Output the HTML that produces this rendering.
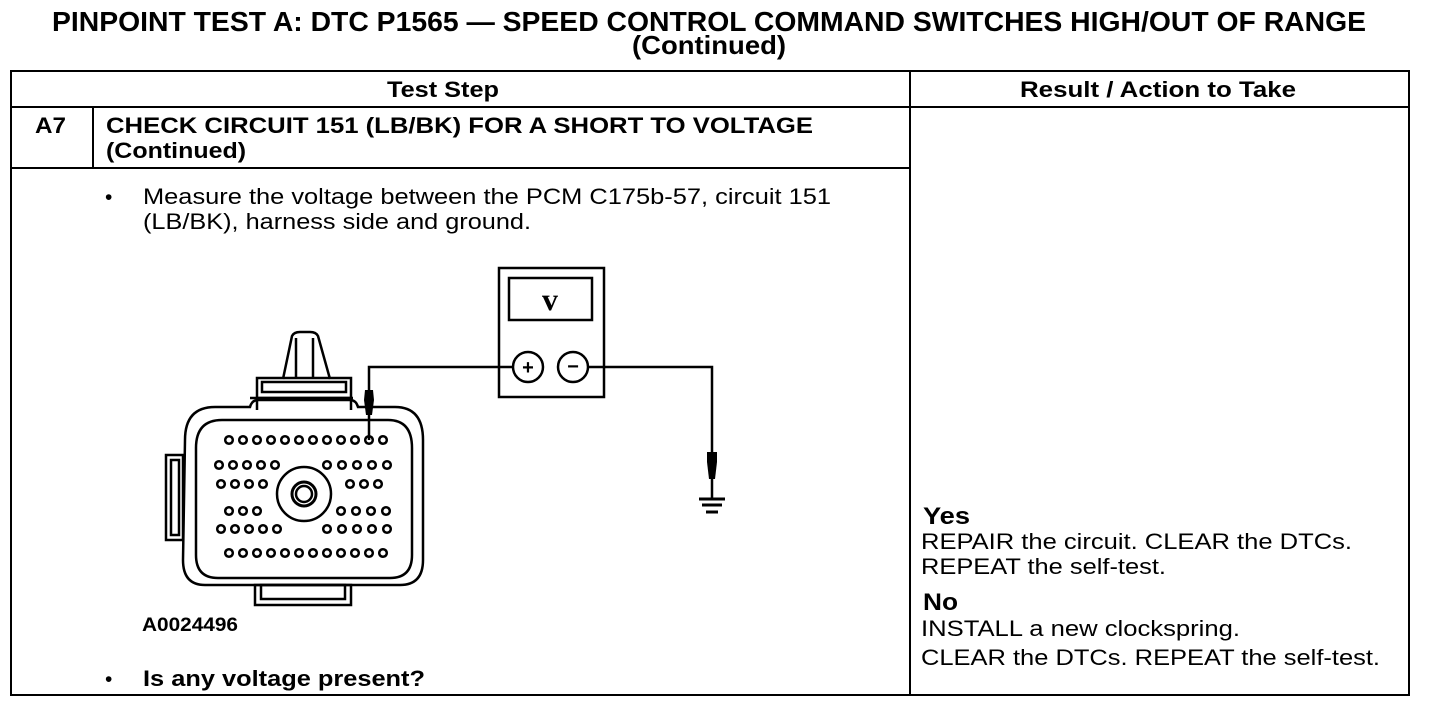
<!DOCTYPE html>
<html><head><meta charset="utf-8"><style>
html,body{margin:0;padding:0;background:#fff;}
svg{display:block;}
text{font-family:"Liberation Sans",Arial,sans-serif;fill:#000;}
.b{font-weight:bold;}
</style></head><body>
<svg width="1440" height="710" viewBox="0 0 1440 710" xmlns="http://www.w3.org/2000/svg">
<text class="b" x="52" y="31" font-size="28" textLength="1314" lengthAdjust="spacingAndGlyphs">PINPOINT TEST  A: DTC P1565 — SPEED CONTROL COMMAND SWITCHES HIGH/OUT OF RANGE</text>
<text class="b" x="632" y="54" font-size="26" textLength="154" lengthAdjust="spacingAndGlyphs">(Continued)</text>
<g fill="none" stroke="#000" stroke-width="2">
<rect x="11" y="71" width="1398" height="624"/>
<line x1="11" y1="107" x2="1409" y2="107"/>
<line x1="910" y1="71" x2="910" y2="695"/>
<line x1="11" y1="168" x2="910" y2="168"/>
<line x1="93" y1="107" x2="93" y2="168"/>
</g>
<text class="b" x="387" y="97" font-size="22" textLength="112" lengthAdjust="spacingAndGlyphs">Test Step</text>
<text class="b" x="1020" y="97" font-size="22" textLength="276" lengthAdjust="spacingAndGlyphs">Result / Action to Take</text>
<text class="b" x="35" y="133" font-size="22" textLength="31" lengthAdjust="spacingAndGlyphs">A7</text>
<text class="b" x="106" y="133" font-size="22" textLength="707" lengthAdjust="spacingAndGlyphs">CHECK CIRCUIT 151 (LB/BK) FOR A SHORT TO VOLTAGE</text>
<text class="b" x="106" y="158" font-size="22" textLength="140" lengthAdjust="spacingAndGlyphs">(Continued)</text>
<text x="105" y="204" font-size="21">•</text>
<text x="143" y="204" font-size="22" textLength="688" lengthAdjust="spacingAndGlyphs">Measure the voltage between the PCM C175b-57, circuit 151</text>
<text x="143" y="229" font-size="22" textLength="388" lengthAdjust="spacingAndGlyphs">(LB/BK), harness side and ground.</text>
<text class="b" x="142" y="631" font-size="19" textLength="96" lengthAdjust="spacingAndGlyphs">A0024496</text>
<text x="105" y="686" font-size="21">•</text>
<text class="b" x="143" y="686" font-size="22" textLength="282" lengthAdjust="spacingAndGlyphs">Is any voltage present?</text>
<text class="b" x="923" y="524" font-size="24" textLength="47" lengthAdjust="spacingAndGlyphs">Yes</text>
<text x="921" y="549" font-size="22" textLength="431" lengthAdjust="spacingAndGlyphs">REPAIR the circuit. CLEAR the DTCs.</text>
<text x="921" y="574" font-size="22" textLength="245" lengthAdjust="spacingAndGlyphs">REPEAT the self-test.</text>
<text class="b" x="923" y="610" font-size="24" textLength="35" lengthAdjust="spacingAndGlyphs">No</text>
<text x="921" y="636" font-size="22" textLength="319" lengthAdjust="spacingAndGlyphs">INSTALL a new clockspring.</text>
<text x="921" y="665" font-size="22" textLength="459" lengthAdjust="spacingAndGlyphs">CLEAR the DTCs. REPEAT the self-test.</text>
<!-- meter -->
<g fill="none" stroke="#000" stroke-width="2.5">
<rect x="499" y="268" width="105" height="129"/>
<rect x="509" y="278" width="83" height="42"/>
<circle cx="528" cy="367" r="15"/>
<circle cx="573" cy="367" r="15"/>
<polyline points="513,367 369,367 369,440"/>
<polyline points="588,367 712,367 712,498"/>
</g>
<text x="550" y="310" font-size="32" font-weight="bold" text-anchor="middle" style="font-family:'Liberation Serif',serif">v</text>
<text x="528" y="374" font-size="20" font-weight="bold" text-anchor="middle">+</text>
<text x="573" y="373" font-size="20" font-weight="bold" text-anchor="middle">−</text>
<polygon points="365,390 373,390 374,400 372,415 366,415 364,400" fill="#000"/>
<polygon points="707,452 717,452 717,462 715,479 709,479 707,462" fill="#000"/>
<g stroke="#000" stroke-width="3">
<line x1="699" y1="499" x2="725" y2="499"/>
<line x1="702" y1="505" x2="722" y2="505"/>
<line x1="706" y1="512" x2="718" y2="512"/>
</g>
<!-- connector -->
<g fill="none" stroke="#000" stroke-width="2.5">
<path d="M283,379 L292,336 Q294,332 300,332 L310,332 Q316,332 318,336 L330,379"/>
<line x1="296" y1="338" x2="296" y2="378"/>
<line x1="313" y1="338" x2="313" y2="378"/>
<rect x="257" y="378" width="94" height="20"/>
<rect x="262" y="382" width="84" height="10"/>
<path d="M250,398 L353,398 M257,398 L257,410 M351,398 L351,410"/>
<path d="M185,440 Q185,407 215,407 L250,407 Q252,400 258,400 L350,400 Q356,400 358,407 L395,407 Q423,407 423,440 L423,560 Q423,585 400,585 L205,585 Q183,585 183,560 Z"/>
<path d="M196,448 Q196,420 222,420 L388,420 Q412,420 412,448 L412,555 Q412,578 390,578 L218,578 Q196,578 196,555 Z"/>
<rect x="166" y="455" width="17" height="85"/>
<rect x="171" y="460" width="8" height="75"/>
<rect x="255" y="585" width="96" height="20"/>
<rect x="261" y="585" width="84" height="14"/>
<circle cx="304" cy="494" r="27"/>
<circle cx="304" cy="494" r="12" stroke-width="3"/>
<circle cx="304" cy="494" r="8"/>
</g>
<g fill="none" stroke="#000" stroke-width="2.5">
<circle cx="229" cy="440" r="3.8"/><circle cx="243" cy="440" r="3.8"/><circle cx="257" cy="440" r="3.8"/><circle cx="271" cy="440" r="3.8"/><circle cx="285" cy="440" r="3.8"/><circle cx="299" cy="440" r="3.8"/><circle cx="313" cy="440" r="3.8"/><circle cx="327" cy="440" r="3.8"/><circle cx="341" cy="440" r="3.8"/><circle cx="355" cy="440" r="3.8"/><circle cx="369" cy="440" r="3.8"/><circle cx="383" cy="440" r="3.8"/>
<circle cx="219" cy="465" r="3.8"/><circle cx="233" cy="465" r="3.8"/><circle cx="247" cy="465" r="3.8"/><circle cx="261" cy="465" r="3.8"/><circle cx="275" cy="465" r="3.8"/>
<circle cx="327" cy="465" r="3.8"/><circle cx="342" cy="465" r="3.8"/><circle cx="357" cy="465" r="3.8"/><circle cx="372" cy="465" r="3.8"/><circle cx="387" cy="465" r="3.8"/>
<circle cx="221" cy="484" r="3.8"/><circle cx="235" cy="484" r="3.8"/><circle cx="249" cy="484" r="3.8"/><circle cx="263" cy="484" r="3.8"/>
<circle cx="350" cy="484" r="3.8"/><circle cx="364" cy="484" r="3.8"/><circle cx="378" cy="484" r="3.8"/>
<circle cx="229" cy="511" r="3.8"/><circle cx="243" cy="511" r="3.8"/><circle cx="257" cy="511" r="3.8"/>
<circle cx="341" cy="511" r="3.8"/><circle cx="356" cy="511" r="3.8"/><circle cx="371" cy="511" r="3.8"/><circle cx="386" cy="511" r="3.8"/>
<circle cx="221" cy="529" r="3.8"/><circle cx="235" cy="529" r="3.8"/><circle cx="249" cy="529" r="3.8"/><circle cx="263" cy="529" r="3.8"/><circle cx="277" cy="529" r="3.8"/>
<circle cx="327" cy="529" r="3.8"/><circle cx="342" cy="529" r="3.8"/><circle cx="357" cy="529" r="3.8"/><circle cx="372" cy="529" r="3.8"/><circle cx="387" cy="529" r="3.8"/>
<circle cx="229" cy="553" r="3.8"/><circle cx="243" cy="553" r="3.8"/><circle cx="257" cy="553" r="3.8"/><circle cx="271" cy="553" r="3.8"/><circle cx="285" cy="553" r="3.8"/><circle cx="299" cy="553" r="3.8"/><circle cx="313" cy="553" r="3.8"/><circle cx="327" cy="553" r="3.8"/><circle cx="341" cy="553" r="3.8"/><circle cx="355" cy="553" r="3.8"/><circle cx="369" cy="553" r="3.8"/><circle cx="383" cy="553" r="3.8"/>
</g>
</svg>
</body></html>
